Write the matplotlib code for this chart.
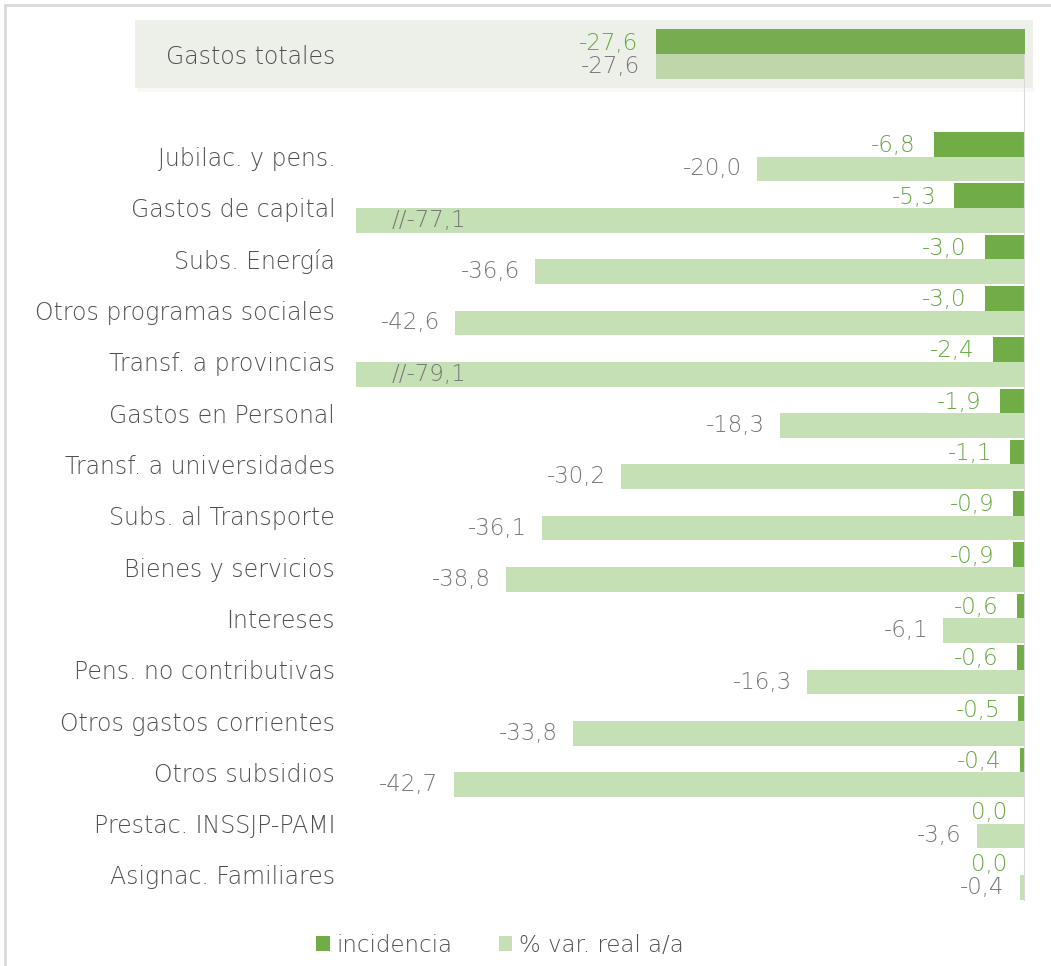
import matplotlib
matplotlib.use("Agg")
import matplotlib.pyplot as plt
from matplotlib.patches import Rectangle, Patch
from matplotlib.lines import Line2D

categories = ["Gastos totales", "", "Jubilac. y pens.", "Gastos de capital", "Subs. Energía",
              "Otros programas sociales", "Transf. a provincias", "Gastos en Personal",
              "Transf. a universidades", "Subs. al Transporte", "Bienes y servicios",
              "Intereses", "Pens. no contributivas", "Otros gastos corrientes",
              "Otros subsidios", "Prestac. INSSJP-PAMI", "Asignac. Familiares"]
incidencia = [-27.6, None, -6.8, -5.3, -3.0, -3.0, -2.4, -1.9, -1.1, -0.9, -0.9,
              -0.6, -0.6, -0.5, -0.4, 0.0, 0.0]
var_real = [-27.6, None, -20.0, -77.1, -36.6, -42.6, -79.1, -18.3, -30.2, -36.1, -38.8,
            -6.1, -16.3, -33.8, -42.7, -3.6, -0.4]
series_names = ["incidencia", "% var. real a/a"]

DARK = "#70AD47"
LIGHT = "#C5E0B4"
GREEN_TXT = "#66A83E"
GREY_TXT = "#767676"
CAT_TXT = "#4F4F4F"
XMIN = -50.0
FS = 16.5
FS_CAT = 17
W = "light"

plt.rcParams['font.family'] = ['DejaVu Sans']

fig = plt.figure(figsize=(10.51, 9.66), dpi=100)
ax = fig.add_axes([356/1051, 1-900.6/966, 669/1051, (900.6-28.4)/966])
ax.patch.set_visible(False)

h = 0.48
fmt = lambda v: f"{v:.1f}".replace(".", ",")
for i, (inc, var) in enumerate(zip(incidencia, var_real)):
    if inc is None:
        continue
    y_inc = i - h/2
    y_var = i + h/2
    ax.barh(y_inc, inc, height=h, color=DARK, zorder=1)
    ax.barh(y_var, var, height=h, color=LIGHT, zorder=1)
    ax.annotate(fmt(inc), (inc, y_inc), xytext=(-13, -1), textcoords="offset points",
                ha="right", va="center", color=GREEN_TXT, fontsize=FS, fontweight=W, zorder=4)
    if var < XMIN:
        ax.text(XMIN + 2.7, y_var, "//" + fmt(var), ha="left", va="center",
                color=GREY_TXT, fontsize=FS, fontweight=W, zorder=4)
    else:
        ax.annotate(fmt(var), (var, y_var), xytext=(-11, 0), textcoords="offset points",
                    ha="right", va="center", color=GREY_TXT, fontsize=FS, fontweight=W, zorder=4)

ax.set_xlim(XMIN, 0)
ax.set_ylim(len(categories) - 0.5, -0.5)
ax.set_yticks(range(len(categories)))
ax.set_yticklabels(categories, fontsize=FS_CAT, color=CAT_TXT, fontweight=W)
ax.tick_params(axis="y", length=0, pad=15)
ax.yaxis.set_zorder(5)
ax.set_xticks([])
for s in ax.spines.values():
    s.set_visible(False)
ax.axvline(0, ymin=0, ymax=0.97, color="#D9D9D9", lw=1.5, zorder=2)

# highlight band for totals (semi-transparent overlay) with faint shadow
ax.add_patch(Rectangle((137/1051, 1-92/966), 898/1051, 4/966, transform=fig.transFigure,
                       facecolor="#C8CCC0", alpha=0.12, edgecolor="none", zorder=1.4, clip_on=False))
ax.add_patch(Rectangle((135/1051, 1-88/966), 898/1051, 68/966, transform=fig.transFigure,
                       facecolor="#A0AC80", alpha=0.18, edgecolor="none", zorder=1.5, clip_on=False))

# outer frame (top and left)
fig.add_artist(Line2D([5/1051, 1], [1-4.5/966, 1-4.5/966], color="#D9D9D9", lw=2))
fig.add_artist(Line2D([5/1051, 5/1051], [0, 1-4.5/966], color="#D9D9D9", lw=2))

handles = [Patch(facecolor=DARK, edgecolor="none"), Patch(facecolor=LIGHT, edgecolor="none")]
leg = fig.legend(handles, series_names, loc="center", bbox_to_anchor=(500/1051, 1-945/966),
                 ncol=2, frameon=False, handlelength=0.6, handleheight=0.6,
                 handletextpad=0.3, columnspacing=2.0,
                 prop={"size": FS, "weight": W})
for t in leg.get_texts():
    t.set_color(CAT_TXT)

fig.savefig("out.png", dpi=100)
